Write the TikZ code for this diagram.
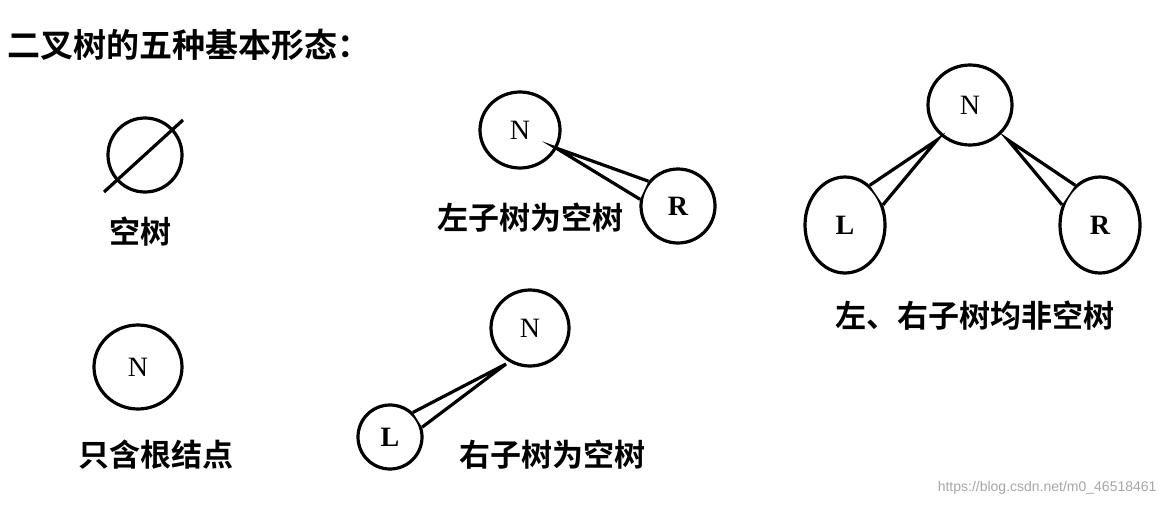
\documentclass[tikz,border=0pt]{standalone}
\usetikzlibrary{shapes.geometric}
\usepackage{fontspec}
\setmainfont{Liberation Serif}
\newfontfamily\cjk{Noto Sans CJK SC Bold}
\newfontfamily\wm{Liberation Sans}
\begin{document}
\begin{tikzpicture}[x=1pt,y=-1pt,
  tn/.style={draw,ellipse,line width=3.2pt,fill=white,inner sep=0pt,font=\fontsize{28}{28}\selectfont},
  lab/.style={font=\cjk\fontsize{31}{31}\selectfont},
  edge/.style={line width=3.2pt,line join=miter}]
\useasboundingbox (0,0) rectangle (1166,506);
\node[anchor=west,font=\cjk\fontsize{33}{33}\selectfont] (title) at (4,45) {二叉树的五种基本形态：};
% empty tree
\node[draw,circle,line width=3.2pt,minimum size=74pt] (e) at (145,155) {};
\coordinate (e1) at (104,192); \coordinate (e2) at (183,120);
\draw[line width=3.2pt] (e1) -- (e2);
\node[lab] (l1) at (140,232) {空树};
% only root
\node[tn,minimum width=88pt,minimum height=84pt] (r0) at (138,367) {N};
\node[lab] (l2) at (156,455) {只含根结点};
% left empty
\node[tn,minimum width=80pt,minimum height=76pt] (n1) at (520,130) {N};
\node[tn,minimum width=74pt,minimum height=74pt] (r1) at (678,206) {\bfseries R};
\coordinate (t1) at (556,148);
\fill[white] (t1) -- (r1.140) -- (r1.170) -- cycle;
\draw[edge] (r1.140) -- (t1) -- (r1.170);
\node[lab] (l3) at (530,218) {左子树为空树};
% right empty
\node[tn,minimum width=78pt,minimum height=76pt] (n2) at (530,328) {N};
\node[tn,minimum width=64pt,minimum height=64pt] (c2) at (390,437) {\bfseries L};
\coordinate (t2) at (506,364);
\fill[white] (t2) -- (c2.17) -- (c2.47) -- cycle;
\draw[edge] (c2.17) -- (t2) -- (c2.47);
\node[lab] (l4) at (552,455) {右子树为空树};
% full
\node[tn,minimum width=84pt,minimum height=80pt] (n3) at (970,105) {N};
\node[tn,minimum width=80pt,minimum height=96pt] (c3) at (845,225) {\bfseries L};
\node[tn,minimum width=80pt,minimum height=96pt] (d3) at (1100,225) {\bfseries R};
\coordinate (t3) at (937,140); \coordinate (t4) at (1008,140);
\fill[white] (t3) -- (c3.28) -- (c3.58) -- cycle;
\draw[edge] (c3.28) -- (t3) -- (c3.58);
\fill[white] (t4) -- (d3.122) -- (d3.152) -- cycle;
\draw[edge] (d3.122) -- (t4) -- (d3.152);
\node[lab] (l5) at (975,316) {左、右子树均非空树};
\node[anchor=east,text=black!35,font=\wm\fontsize{14}{14}\selectfont] (wmk) at (1160,488) {https://blog.csdn.net/m0\_46518461};
\end{tikzpicture}
\end{document}
